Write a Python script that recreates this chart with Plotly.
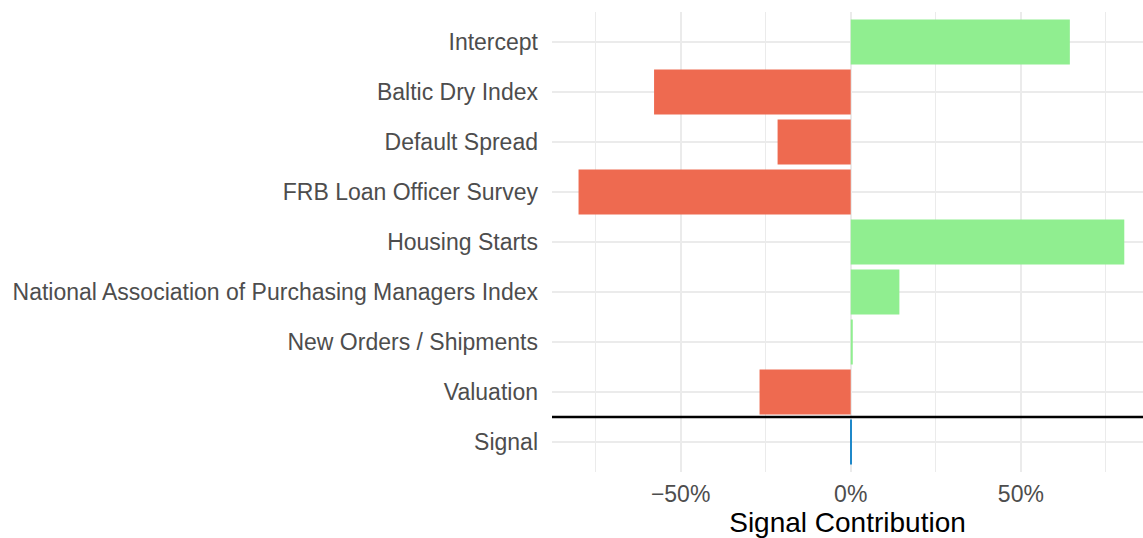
import plotly.graph_objects as go

categories = ["Intercept", "Baltic Dry Index", "Default Spread", "FRB Loan Officer Survey",
              "Housing Starts", "National Association of Purchasing Managers Index",
              "New Orders / Shipments", "Valuation", "Signal"]
values = [64.4, -57.8, -21.5, -80.0, 80.4, 14.3, 0.6, -26.8, 0.3]
colors_by_kind = {"pos": "#90EE90", "neg": "#EE6A50", "signal": "#1F88C9"}
tick_vals = [-50, 0, 50]
tick_text = ["\u221250%", "0%", "50%"]
minor_vals = [-75, -25, 25, 75]

bar_colors = []
for c, v in zip(categories, values):
    if c == "Signal":
        bar_colors.append(colors_by_kind["signal"])
    elif v >= 0:
        bar_colors.append(colors_by_kind["pos"])
    else:
        bar_colors.append(colors_by_kind["neg"])

fig = go.Figure()
fig.add_trace(go.Bar(
    x=values, y=categories, orientation="h",
    marker=dict(color=bar_colors, line=dict(width=0)),
    width=0.9, showlegend=False, hoverinfo="x+y",
))

fig.add_shape(type="line", xref="paper", yref="y", x0=0, x1=1, y0=7.5, y1=7.5,
              line=dict(color="black", width=2.5), layer="above")

fig.update_layout(
    width=1143, height=538,
    margin=dict(l=552, r=0, t=12, b=66),
    paper_bgcolor="white", plot_bgcolor="white",
    font=dict(family="Liberation Sans, Arial, sans-serif", size=23, color="#4D4D4D"),
    bargap=0.1,
)
fig.update_xaxes(
    range=[-87.8, 85.9], tickvals=tick_vals, ticktext=tick_text,
    showgrid=True, gridcolor="#EBEBEB", gridwidth=2,
    minor=dict(tickvals=minor_vals, showgrid=True, gridcolor="#EBEBEB", gridwidth=1),
    zeroline=False, showline=False, ticks="",
    tickfont=dict(size=23, color="#4D4D4D"),
    ticklabelstandoff=6,
    title=dict(text="Signal Contribution", font=dict(size=28, color="black"), standoff=4),
)
fig.update_yaxes(
    categoryorder="array", categoryarray=categories,
    range=[8.6, -0.6],
    showgrid=True, gridcolor="#EBEBEB", gridwidth=2,
    zeroline=False, showline=False, ticks="",
    tickfont=dict(size=23, color="#4D4D4D"),
    ticklabelstandoff=13,
)

fig.write_html("out.html", config={"displayModeBar": False},
               post_script="document.body.style.margin='0';document.body.style.overflow='hidden';")
